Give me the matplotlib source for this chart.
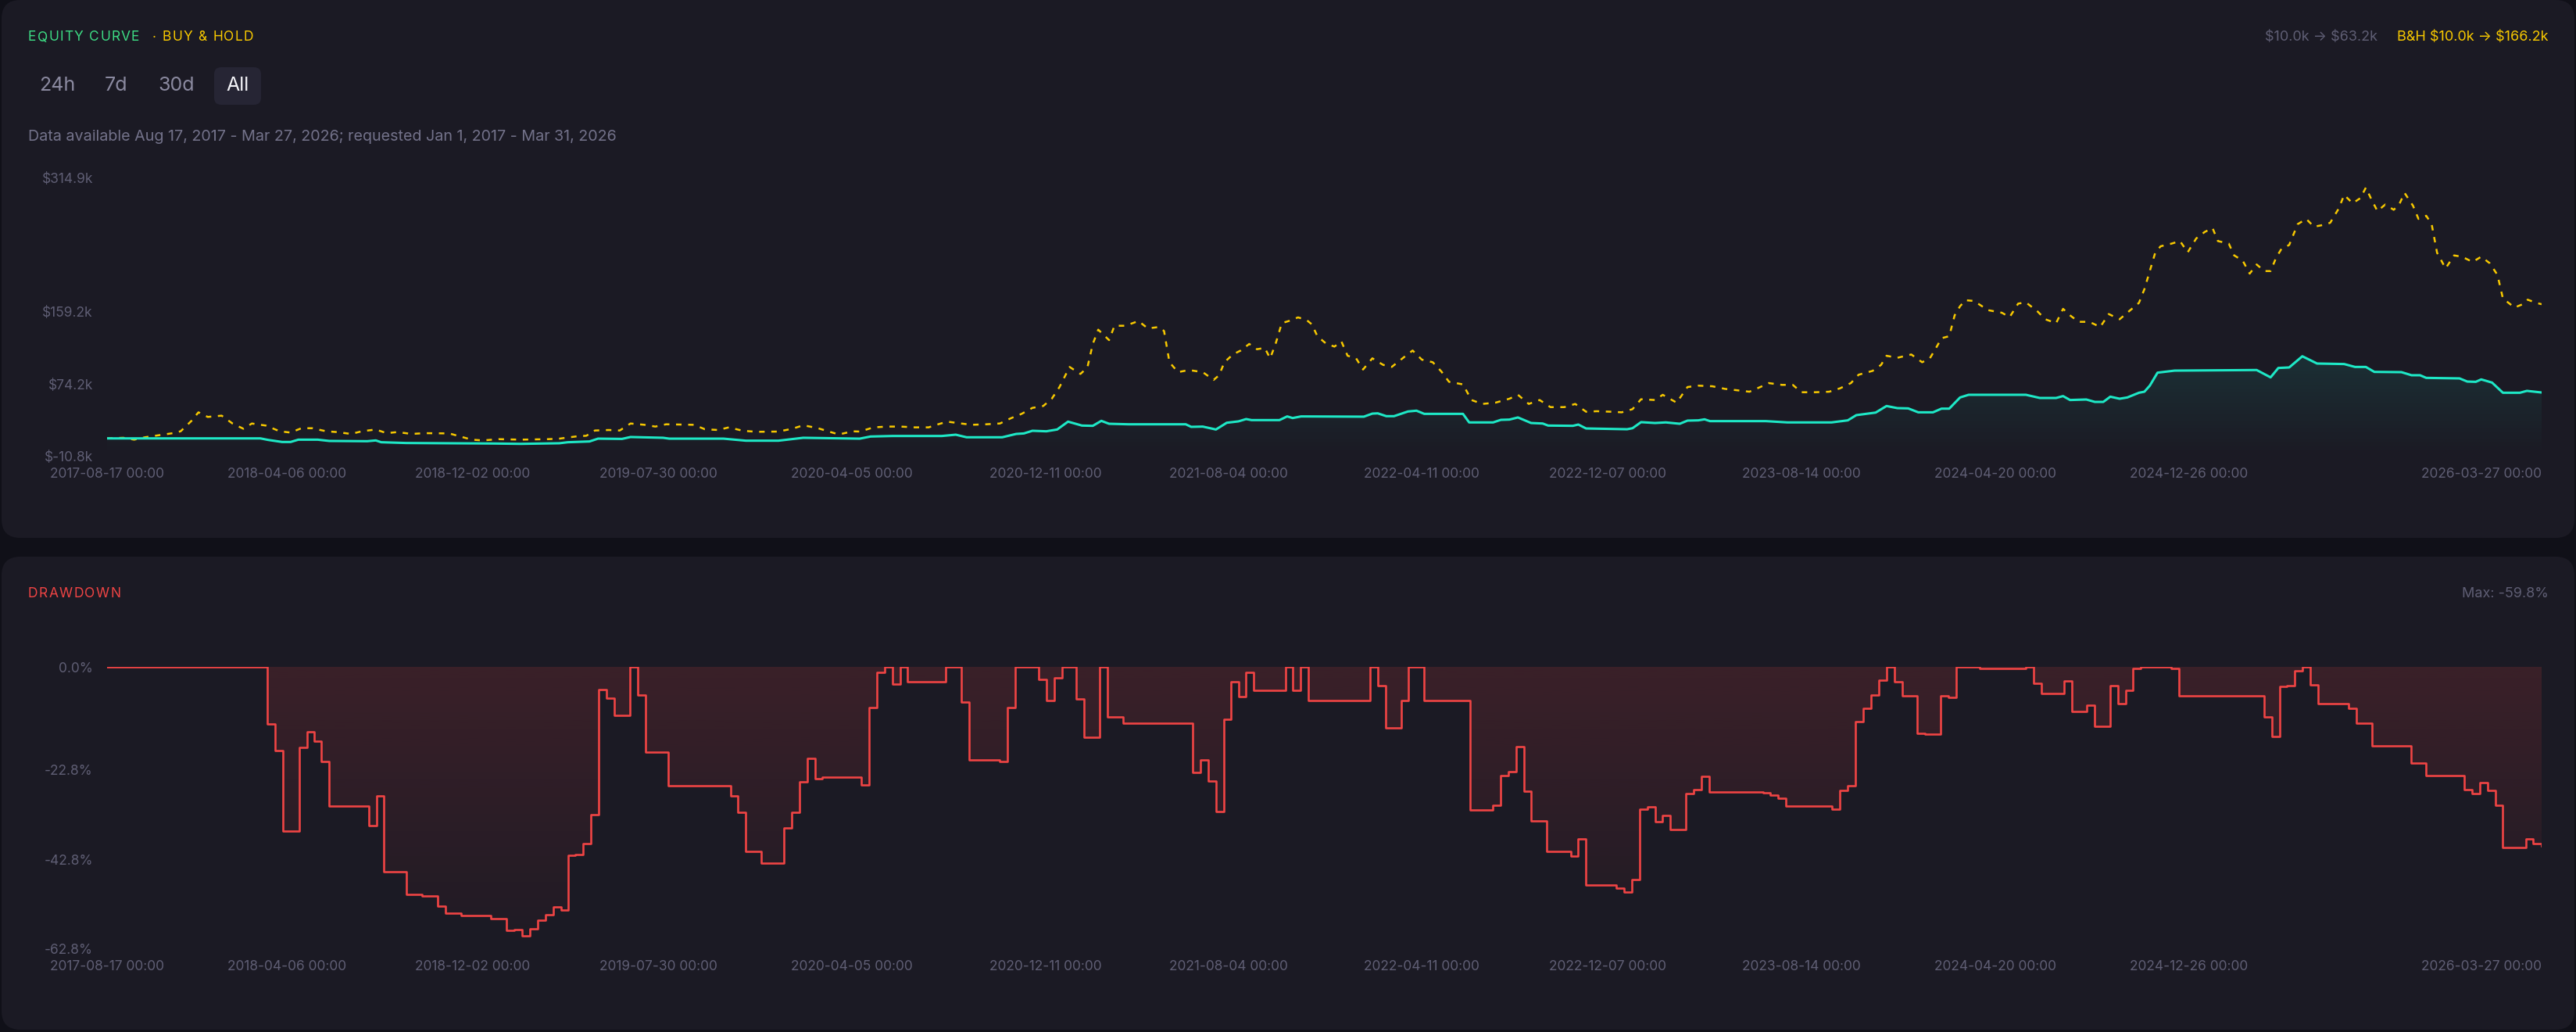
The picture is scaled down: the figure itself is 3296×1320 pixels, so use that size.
import numpy as np
import matplotlib
matplotlib.use("Agg")
import matplotlib.pyplot as plt
from matplotlib.patches import FancyBboxPatch
from matplotlib.colors import to_rgb

plt.rcParams['font.family'] = ['Inter', 'DejaVu Sans']

# ---- data (x = days since first sample) ----
start_date = np.datetime64('2017-08-17')

tick_dates = ['2017-08-17', '2018-04-06', '2018-12-02', '2019-07-30', '2020-04-05',
              '2020-12-11', '2021-08-04', '2022-04-11', '2022-12-07', '2023-08-14',
              '2024-04-20', '2024-12-26', '2026-03-27']

# strategy equity, $k
eq_days = [0, 198, 208, 226, 237, 247, 272, 287, 336, 347, 354, 386, 449, 499, 534, 584, 595,
           623, 634, 665, 676, 690, 718, 726, 796, 825, 867, 899, 972, 986, 1014, 1078, 1096,
           1110, 1156, 1174, 1184, 1195, 1213, 1227, 1241, 1259, 1273, 1284, 1294, 1319, 1393,
           1400, 1415, 1432, 1446, 1461, 1471, 1478, 1514, 1524, 1531, 1542, 1623, 1634, 1641,
           1652, 1662, 1680, 1691, 1701, 1751, 1759, 1790, 1800, 1811, 1822, 1839, 1854, 1861,
           1893, 1900, 1910, 1963, 1970, 1981, 1999, 2013, 2031, 2041, 2055, 2063, 2070, 2142,
           2170, 2227, 2248, 2259, 2284, 2298, 2312, 2326, 2339, 2358, 2369, 2379, 2393, 2404,
           2478, 2496, 2517, 2526, 2535, 2556, 2567, 2578, 2587, 2599, 2609, 2624, 2631, 2638,
           2648, 2670, 2776, 2794, 2804, 2818, 2835, 2854, 2889, 2903, 2917, 2928, 2963, 2976,
           2987, 2995, 3038, 3048, 3059, 3066, 3080, 3094, 3116, 3125, 3144]
eq_vals = [10.5, 10.5, 8.7, 6.3, 6.3, 9.0, 9.0, 7.5, 7.2, 8.1, 6.0, 5.1, 4.8, 4.5, 4.1, 4.8, 6.0,
           6.9, 10.2, 9.9, 12.1, 11.8, 11.2, 10.2, 10.2, 7.8, 7.8, 11.2, 10.2, 12.7, 13.3, 13.3, 14.8,
           11.8, 11.8, 15.7, 16.3, 19.4, 18.8, 20.9, 30.1, 25.5, 25.2, 31.0, 27.6, 27.0, 27.0,
           24.0, 24.3, 20.9, 28.8, 30.4, 33.1, 31.9, 31.9, 36.2, 34.3, 36.2, 35.9, 39.5, 39.8,
           36.5, 36.5, 42.0, 42.9, 39.2, 39.2, 29.2, 29.2, 32.2, 32.5, 35.0, 28.5, 27.9, 25.5,
           25.2, 26.7, 22.1, 21.2, 22.4, 29.5, 28.5, 29.2, 27.6, 31.3, 31.6, 32.8, 30.7, 30.7,
           29.2, 29.2, 31.6, 37.7, 40.7, 48.4, 45.9, 45.6, 41.0, 41.0, 45.3, 45.3, 58.4, 61.5,
           61.5, 57.8, 57.8, 60.0, 55.4, 56.0, 53.2, 53.2, 59.3, 56.9, 58.4, 63.9, 65.1, 72.2,
           87.4, 89.8, 90.5, 81.9, 92.9, 93.5, 106.6, 98.1, 97.5, 94.1, 94.1, 88.3, 88.0, 84.4,
           84.4, 81.3, 80.7, 77.0, 76.7, 79.5, 75.8, 63.9, 63.9, 66.1, 64.2]

# buy & hold, $k
bh_days = [0, 21, 35, 49, 67, 85, 95, 109, 118, 130, 148, 162, 176, 187, 205, 223, 237, 251, 265,
           283, 297, 315, 329, 347, 361, 375, 393, 410, 442, 456, 471, 485, 506, 534, 570, 584,
           605, 619, 630, 648, 662, 676, 694, 708, 722, 758, 772, 789, 803, 821, 839, 867, 885,
           899, 917, 931, 945, 963, 972, 990, 1007, 1025, 1043, 1061, 1071, 1085, 1103, 1117,
           1135, 1153, 1167, 1181, 1195, 1209, 1220, 1230, 1243, 1257, 1266, 1273, 1280, 1294,
           1301, 1315, 1332, 1344, 1358, 1365, 1372, 1383, 1397, 1415, 1429, 1436, 1443, 1454,
           1464, 1475, 1485, 1495, 1502, 1509, 1517, 1528, 1538, 1549, 1556, 1563, 1574, 1585,
           1594, 1602, 1613, 1622, 1634, 1648, 1659, 1673, 1686, 1698, 1712, 1723, 1733, 1751,
           1762, 1776, 1793, 1811, 1822, 1836, 1850, 1864, 1882, 1896, 1910, 1924, 1942, 1956,
           1970, 1981, 1999, 2009, 2027, 2041, 2055, 2073, 2089, 2103, 2121, 2135, 2146, 2163,
           2177, 2188, 2206, 2224, 2238, 2252, 2262, 2280, 2291, 2298, 2312, 2330, 2344, 2354,
           2362, 2369, 2379, 2386, 2393, 2400, 2411, 2429, 2447, 2457, 2468, 2478, 2493, 2503,
           2517, 2526, 2535, 2546, 2560, 2574, 2585, 2599, 2613, 2624, 2631, 2638, 2645, 2652,
           2666, 2677, 2687, 2698, 2709, 2719, 2726, 2740, 2747, 2758, 2767, 2776, 2786, 2794,
           2801, 2808, 2818, 2829, 2840, 2850, 2864, 2871, 2882, 2889, 2900, 2910, 2917, 2925,
           2932, 2942, 2953, 2960, 2967, 2978, 2985, 2995, 3002, 3009, 3020, 3031, 3041, 3055,
           3066, 3077, 3087, 3094, 3109, 3119, 3126, 3137, 3144]
bh_vals = [10.5, 11.2, 9.0, 11.8, 14.2, 16.6, 18.8, 31.0, 41.0, 35.6, 37.1, 27.9, 21.8, 27.9,
           25.5, 18.8, 17.3, 22.4, 22.4, 18.8, 17.9, 15.7, 18.8, 20.9, 16.6, 17.9, 15.7, 16.6,
           16.3, 12.7, 9.0, 8.1, 9.6, 9.0, 9.6, 10.2, 12.7, 13.6, 19.7, 20.3, 19.7, 27.9, 26.4,
           24.3, 27.0, 26.4, 21.2, 20.3, 23.4, 19.4, 18.2, 18.5, 21.8, 25.8, 22.7, 18.8, 15.1,
           18.8, 18.5, 23.4, 24.3, 24.3, 23.4, 23.4, 26.4, 30.1, 27.9, 26.4, 27.0, 27.9, 34.0,
           39.2, 46.2, 48.4, 56.9, 70.6, 94.1, 85.9, 93.5, 121.0, 137.7, 125.5, 142.3, 142.3,
           147.8, 139.2, 140.8, 136.2, 99.6, 88.0, 90.5, 88.0, 78.9, 84.4, 99.6, 108.8, 113.3,
           121.0, 114.8, 116.4, 104.2, 121.0, 145.3, 148.4, 152.1, 149.1, 143.8, 130.1, 121.6,
           117.9, 124.0, 107.2, 104.2, 91.1, 104.2, 96.5, 94.1, 104.2, 113.3, 102.6, 99.6, 88.9,
           76.7, 73.7, 55.4, 50.8, 52.3, 56.9, 61.5, 50.8, 55.4, 47.1, 47.1, 50.8, 41.7, 42.3,
           41.7, 41.0, 44.7, 56.3, 55.4, 61.5, 52.3, 70.6, 72.2, 71.5, 68.5, 67.0, 65.1, 70.6,
           75.2, 73.1, 73.1, 64.5, 64.5, 65.1, 69.1, 75.2, 85.0, 89.5, 96.5, 107.2, 104.8, 108.7,
           99.6, 104.2, 116.4, 127.7, 130.1, 154.5, 165.2, 172.2, 171.3, 160.6, 157.5, 152.4,
           168.2, 169.7, 159.1, 149.9, 145.3, 162.1, 154.5, 146.9, 146.9, 140.8, 156.0, 149.9,
           160.6, 169.1, 185.0, 206.3, 227.7, 235.3, 238.4, 241.4, 228.3, 244.5, 252.1, 256.7,
           241.4, 238.4, 224.6, 218.5, 203.3, 214.0, 206.3, 206.3, 221.6, 232.3, 236.8, 261.2,
           267.3, 258.2, 260.6, 262.8, 279.5, 295.4, 285.6, 291.7, 303.9, 288.7, 276.5, 284.1,
           278.0, 284.1, 297.8, 282.6, 267.3, 271.0, 261.2, 227.7, 209.4, 224.6, 223.1, 217.0,
           223.1, 215.5, 201.8, 174.3, 163.6, 167.3, 172.8, 169.1, 167.5]

# drawdown change points, %
dd_days = [0, 207, 217, 227, 248, 258, 267, 277, 287, 338, 348, 357, 387, 407, 427, 437, 457,
           496, 516, 526, 536, 546, 556, 566, 576, 586, 595, 605, 615, 625, 635, 645, 655, 675,
           685, 695, 725, 805, 815, 825, 845, 855, 874, 884, 894, 904, 914, 924, 974, 984, 994,
           1004, 1014, 1024, 1034, 1083, 1103, 1113, 1153, 1163, 1173, 1203, 1213, 1223, 1233,
           1252, 1262, 1282, 1292, 1312, 1402, 1412, 1422, 1432, 1442, 1451, 1461, 1471, 1481,
           1522, 1531, 1541, 1551, 1631, 1641, 1651, 1661, 1671, 1681, 1701, 1760, 1790, 1800,
           1810, 1820, 1830, 1839, 1859, 1890, 1900, 1910, 1949, 1959, 1969, 1979, 1989, 1999,
           2009, 2019, 2039, 2049, 2059, 2069, 2139, 2148, 2158, 2168, 2228, 2238, 2248, 2258,
           2268, 2278, 2288, 2298, 2308, 2318, 2338, 2348, 2368, 2378, 2388, 2418, 2478, 2488,
           2498, 2527, 2537, 2557, 2567, 2587, 2597, 2607, 2616, 2626, 2666, 2676, 2786, 2796,
           2806, 2815, 2825, 2835, 2845, 2855, 2895, 2905, 2925, 2975, 2995, 3044, 3054, 3064,
           3074, 3084, 3094, 3124, 3133, 3144]
dd_vals = [0, -12.7, -18.7, -36.6, -18.0, -14.4, -16.6, -21.0, -31.0, -35.3, -28.7, -45.5, -50.6,
           -50.9, -53.2, -54.8, -55.3, -56.0, -58.7, -58.4, -59.8, -58.3, -56.4, -55.1, -53.4,
           -54.1, -41.9, -41.7, -39.3, -32.9, -5.1, -6.9, -10.8, 0, -6.3, -18.9, -26.4, -28.7,
           -32.4, -41.1, -43.6, -43.7, -35.8, -32.3, -25.5, -20.4, -24.9, -24.5, -26.2, -9.0, -1.2,
           0, -3.9, 0, -3.3, 0, -7.8, -20.7, -21.1, -9.0, 0, -2.8, -7.4, -2.4, 0, -7.1, -15.6, 0,
           -11.1, -12.6, -23.5, -20.7, -25.4, -32.1, -11.7, -3.3, -6.6, -1.3, -5.3, 0, -5.2, 0,
           -7.4, 0, -4.2, -13.6, -13.5, -7.5, 0, -7.4, -31.9, -30.8, -24.1, -23.3, -17.8, -27.6,
           -34.3, -41.0, -42.1, -38.2, -48.5, -49.2, -50.1, -47.4, -31.6, -31.2, -34.4, -33.1,
           -36.1, -28.2, -27.3, -24.3, -27.9, -28.0, -28.6, -29.3, -31.0, -31.7, -27.4, -26.4,
           -12.1, -9.2, -6.2, -2.9, 0, -3.3, -6.4, -14.8, -14.9, -6.4, -6.8, 0, -0.4, 0, -3.6,
           -6.0, -3.1, -9.9, -8.5, -13.3, -4.1, -8.1, -5.3, -0.3, 0, -0.3, -6.4, -11.1, -15.4,
           -4.3, -4.1, -0.9, 0, -4.0, -8.2, -9.3, -12.5, -17.5, -21.4, -24.1, -27.3, -28.2, -25.8,
           -27.4, -30.8, -40.1, -38.3, -39.3, -39.8]

eq_ticks = [-10.8, 74.2, 159.2, 314.9]
dd_ticks = [-62.8, -42.8, -22.8, 0.0]

# ---- style ----
W, H = 3296, 1320
OUTER = '#101018'
CARD = '#1b1a24'
MUTED = '#5f5e74'
TEAL = '#1ee8c6'
YELLOW = '#f7c800'
RED = '#ef4444'
GREEN = '#3ddc84'

fig = plt.figure(figsize=(W / 100, H / 100), dpi=100, facecolor=OUTER)
renderer = fig.canvas.get_renderer()

bg = fig.add_axes([0, 0, 1, 1])
bg.set_xlim(0, W)
bg.set_ylim(H, 0)
bg.axis('off')
bg.patch.set_alpha(0)

for y0, y1 in [(0, 688), (712, 1317)]:
    bg.add_patch(FancyBboxPatch((2, y0), W - 4, y1 - y0,
                                boxstyle='round,pad=0,rounding_size=24',
                                fc=CARD, ec='none'))


def spaced_text(x, y, s, gap, **kw):
    # letter-spaced label: place each glyph after the measured width of the prefix
    for i, ch in enumerate(s):
        if i:
            probe = bg.text(0, 0, s[:i], **kw)
            off = probe.get_window_extent(renderer).width
            probe.remove()
        else:
            off = 0
        bg.text(x + off + i * gap, y, ch, va='center', **kw)


# header texts
spaced_text(36, 48, 'EQUITY CURVE', 1.3, color=GREEN, fontsize=12.5)
spaced_text(195, 48, '· BUY & HOLD', 1.3, color=YELLOW, fontsize=12.5)
bg.text(3261, 48, r'B&H \$10.0k → \$166.2k', color=YELLOW, fontsize=13, va='center', ha='right')
bg.text(3042, 48, r'\$10.0k → \$63.2k', color=MUTED, fontsize=13, va='center', ha='right')

bg.add_patch(FancyBboxPatch((274, 86), 60, 48, boxstyle='round,pad=0,rounding_size=9',
                            fc='#262534', ec='none'))
for label, xc in [('24h', 73), ('7d', 149), ('30d', 226), ('All', 304)]:
    bg.text(xc, 110, label, color='#f4f4f8' if label == 'All' else '#8b8aa0',
            fontsize=18, va='center', ha='center')

bg.text(36, 175, 'Data available Aug 17, 2017 - Mar 27, 2026; requested Jan 1, 2017 - Mar 31, 2026',
        color='#73728a', fontsize=14.2, va='center')

spaced_text(36, 760, 'DRAWDOWN', 1.4, color=RED, fontsize=12.5)
bg.text(3261, 760, 'Max: -59.8%', color=MUTED, fontsize=13, va='center', ha='right')

# ---- axes ----
x_left, x_right = 137, 3252
ax1 = fig.add_axes([x_left / W, 1 - 584 / H, (x_right - x_left) / W, (584 - 228) / H])
ax2 = fig.add_axes([x_left / W, 1 - 1214 / H, (x_right - x_left) / W, (1214 - 853) / H])

tick_pos = [(np.datetime64(d) - start_date).astype(int) for d in tick_dates]
tick_lbl = [d + ' 00:00' for d in tick_dates]
x_end = eq_days[-1]


def gradient_fill(ax, x, y, fill_to, color, a_hi, a_lo, lo, hi, step=None):
    # area between y and fill_to, coloured by a vertical alpha ramp (a_hi at hi -> a_lo at lo)
    coll = ax.fill_between(x, y, fill_to, step=step, color='none', lw=0)
    path = coll.get_paths()[0]
    rgba = np.zeros((256, 1, 4))
    rgba[..., :3] = to_rgb(color)
    rgba[..., 3] = np.linspace(a_hi, a_lo, 256)[:, None]
    im = ax.imshow(rgba, extent=[min(x), max(x), lo, hi], aspect='auto',
                   origin='upper', zorder=1, interpolation='bilinear')
    im.set_clip_path(path, transform=ax.transData)


# equity panel
gradient_fill(ax1, eq_days, eq_vals, eq_ticks[0], TEAL, 0.11, 0.0, eq_ticks[0], max(eq_vals))
ax1.plot(bh_days, bh_vals, color=YELLOW, lw=1.8, dashes=(2.8, 3.4), zorder=3)
ax1.plot(eq_days, eq_vals, color=TEAL, lw=2.2, zorder=4, solid_joinstyle='round')
ax1.set_ylim(eq_ticks[0], eq_ticks[-1])
ax1.set_yticks(eq_ticks)
ax1.set_yticklabels(['\\$%.1fk' % v for v in eq_ticks])

# drawdown panel
gradient_fill(ax2, dd_days, dd_vals, 0, RED, 0.15, 0.02, dd_ticks[0], 0, step='post')
ax2.step(dd_days, dd_vals, where='post', color=RED, lw=1.9, zorder=4)
ax2.set_ylim(dd_ticks[0], dd_ticks[-1])
ax2.set_yticks(dd_ticks)
ax2.set_yticklabels(['%.1f%%' % v for v in dd_ticks])

for ax in (ax1, ax2):
    ax.set_facecolor('none')
    ax.set_xlim(0, x_end)
    for s in ax.spines.values():
        s.set_visible(False)
    ax.set_xticks(tick_pos)
    ax.set_xticklabels(tick_lbl)
    ax.tick_params(length=0, colors=MUTED, labelsize=12.5)
    ax.tick_params(axis='y', pad=13)
    ax.tick_params(axis='x', pad=10)
    ax.get_xticklabels()[-1].set_ha('right')

fig.savefig('out.png', dpi=100, facecolor=OUTER)
